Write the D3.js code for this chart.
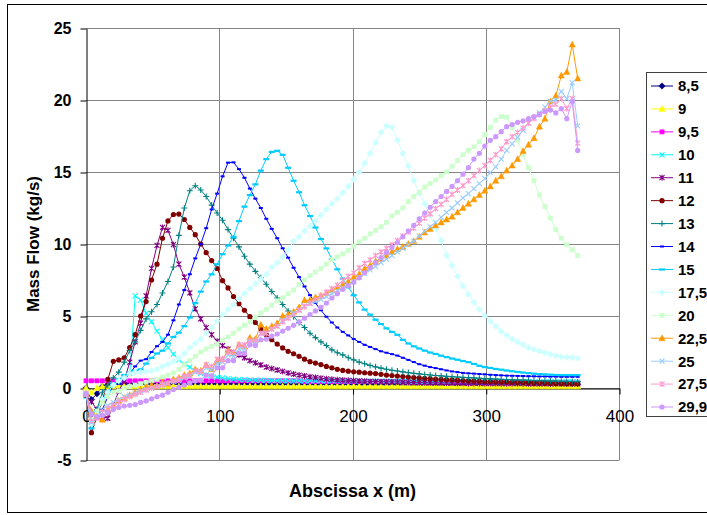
<!DOCTYPE html>
<html><head><meta charset="utf-8">
<script src="https://cdn.jsdelivr.net/npm/d3@7"></script>
<style>
html,body{margin:0;padding:0;background:#fff;}
svg{display:block;font-family:"Liberation Sans",Arial,sans-serif;}
</style></head>
<body>
<svg id="chart" width="707" height="515"></svg>
<script>
// ---------- DATA ----------
const xValues = [0,4.1,8.2,12.3,16.4,20.5,24.6,28.7,32.8,36.9,
41,45.1,49.2,53.3,57.4,61.5,65.6,69.7,73.8,77.9,
82,86.1,90.2,94.3,98.4,102.5,106.6,110.7,114.8,118.9,
123,127.1,131.2,135.3,139.4,143.5,147.6,151.7,155.8,159.9,
164,168.1,172.2,176.3,180.4,184.5,188.6,192.7,196.8,200.9,
205,209.1,213.2,217.3,221.4,225.5,229.6,233.7,237.8,241.9,
246,250.1,254.2,258.3,262.4,266.5,270.6,274.7,278.8,282.9,
287,291.1,295.2,299.3,303.4,307.5,311.6,315.7,319.8,323.9,
328,332.1,336.2,340.3,344.4,348.5,352.6,356.7,360.8,364.9,
369];

const seriesNames = ["8,5","9","9,5","10","11","12","13","14","15","17,5","20","22,5","25","27,5","29,9"];

const flow8_5 = [0,-0.8,-0.4,0.1,0.25,0.3,0.3,0.3,0.3,0.3,
0.3,0.3,0.3,0.3,0.3,0.3,0.3,0.3,0.3,0.3,
0.3,0.3,0.3,0.3,0.3,0.3,0.3,0.3,0.3,0.3,
0.28,0.28,0.28,0.28,0.28,0.28,0.28,0.28,0.28,0.28,
0.28,0.28,0.28,0.28,0.28,0.28,0.28,0.28,0.28,0.28,
0.26,0.26,0.26,0.26,0.26,0.26,0.26,0.26,0.26,0.26,
0.25,0.25,0.25,0.25,0.25,0.25,0.25,0.25,0.25,0.25,
0.25,0.25,0.25,0.25,0.25,0.25,0.25,0.25,0.25,0.25,
0.24,0.24,0.24,0.24,0.24,0.24,0.24,0.24,0.24,0.24,
0.24];
const flow9 = [0,-0.3,0,0.1,0.12,0.12,0.12,0.12,0.12,0.12,
0.12,0.12,0.12,0.12,0.12,0.12,0.12,0.12,0.12,0.12,
0.12,0.12,0.12,0.12,0.12,0.12,0.12,0.12,0.12,0.12,
0.12,0.12,0.12,0.12,0.12,0.12,0.12,0.12,0.12,0.12,
0.12,0.12,0.12,0.12,0.12,0.12,0.12,0.12,0.12,0.12,
0.12,0.12,0.12,0.12,0.12,0.12,0.12,0.12,0.12,0.12,
0.12,0.12,0.12,0.12,0.12,0.12,0.12,0.12,0.12,0.12,
0.12,0.12,0.12,0.12,0.12,0.12,0.12,0.12,0.12,0.12,
0.12,0.12,0.12,0.12,0.12,0.12,0.12,0.12,0.12,0.12,
0.12];
const flow9_5 = [0.5,0.5,0.5,0.5,0.5,0.5,0.5,0.5,0.5,0.5,
0.5,0.5,0.5,0.5,0.5,0.5,0.5,0.5,0.5,0.5,
0.5,0.5,0.5,0.5,0.5,0.5,0.5,0.5,0.5,0.5,
0.5,0.5,0.5,0.5,0.5,0.5,0.5,0.5,0.5,0.5,
0.45,0.45,0.45,0.45,0.45,0.45,0.45,0.45,0.45,0.45,
0.45,0.45,0.45,0.45,0.45,0.45,0.45,0.45,0.45,0.45,
0.4,0.4,0.4,0.4,0.4,0.4,0.4,0.4,0.4,0.4,
0.4,0.4,0.4,0.4,0.4,0.4,0.4,0.4,0.4,0.4,
0.37,0.37,0.37,0.37,0.37,0.37,0.37,0.37,0.37,0.37,
0.37];
const flow10 = [-0.6,-2.6,-1.8,-0.8,-0.3,0.2,0.5,0.8,1.0,6.4,
6.1,5.2,4.6,3.95,3.35,2.8,2.35,1.95,1.65,1.45,
1.2,1.0,0.9,0.8,0.75,0.7,0.65,0.62,0.6,0.58,
0.56,0.55,0.54,0.53,0.52,0.51,0.5,0.5,0.5,0.5,
0.49,0.49,0.49,0.49,0.49,0.49,0.49,0.49,0.49,0.49,
0.48,0.48,0.48,0.48,0.48,0.48,0.48,0.48,0.48,0.48,
0.46,0.46,0.46,0.46,0.46,0.46,0.46,0.46,0.46,0.46,
0.44,0.44,0.44,0.44,0.44,0.44,0.44,0.44,0.44,0.44,
0.43,0.43,0.43,0.43,0.43,0.43,0.43,0.43,0.43,0.43,
0.42];
const flow11 = [-0.5,-0.95,-1.5,-2.0,-2.1,-1.2,-0.2,0.5,1.8,3.2,
4.5,6.4,8.3,9.9,11.15,10.95,9.95,8.6,7.7,6.6,
5.5,4.8,4.2,3.7,3.25,2.95,2.7,2.5,2.3,2.1,
1.9,1.75,1.6,1.45,1.35,1.25,1.15,1.05,0.97,0.9,
0.84,0.78,0.73,0.68,0.64,0.6,0.57,0.55,0.53,0.51,
0.49,0.47,0.46,0.45,0.44,0.43,0.42,0.41,0.4,0.39,
0.38,0.37,0.37,0.36,0.35,0.35,0.34,0.34,0.33,0.33,
0.32,0.32,0.32,0.31,0.31,0.31,0.3,0.3,0.3,0.3,
0.3,0.29,0.29,0.29,0.29,0.28,0.28,0.28,0.28,0.28,
0.28];
const flow12 = [-0.5,-3.1,-2.0,-0.9,0.6,1.85,1.95,2.1,2.8,3.7,
5.0,6.0,7.5,8.6,10.4,11.6,12.05,12.08,11.7,11.15,
10.65,10.0,9.4,8.85,8.3,7.45,6.95,6.35,5.85,5.4,
4.95,4.55,4.1,3.7,3.35,3.05,2.78,2.55,2.38,2.2,
2.0,1.83,1.73,1.63,1.5,1.4,1.3,1.22,1.17,1.13,
1.1,1.06,1.03,1.0,0.95,0.9,0.86,0.83,0.79,0.76,
0.73,0.7,0.67,0.65,0.62,0.6,0.58,0.56,0.54,0.52,
0.5,0.48,0.47,0.45,0.44,0.43,0.42,0.41,0.4,0.39,
0.38,0.37,0.36,0.35,0.34,0.33,0.32,0.31,0.3,0.3,
0.3];
const flow13 = [-0.5,-2.0,-1.5,-0.3,0.2,0.7,1.1,1.8,2.6,3.2,
4.0,4.8,5.3,5.8,6.6,7.4,8.4,10.6,12.5,13.7,
14.05,13.75,13.3,12.7,12.15,11.65,11.0,10.4,9.8,9.15,
8.6,8.1,7.65,7.2,6.7,6.25,5.8,5.35,4.95,4.55,
4.2,3.8,3.5,3.2,2.95,2.65,2.45,2.3,2.1,1.95,
1.8,1.68,1.57,1.47,1.38,1.3,1.23,1.18,1.12,1.07,
1.02,0.98,0.94,0.9,0.87,0.84,0.81,0.78,0.76,0.74,
0.72,0.7,0.68,0.66,0.64,0.62,0.6,0.59,0.57,0.56,
0.55,0.54,0.52,0.51,0.5,0.49,0.48,0.47,0.46,0.45,
0.44];
const flow14 = [-0.5,-2.5,-2.0,-1.5,-0.6,0.2,0.3,0.6,1.0,1.5,
1.9,2.0,2.5,2.9,3.2,3.7,4.7,5.8,6.8,7.9,
9.0,10.0,11.1,12.4,13.5,14.7,15.65,15.67,15.2,14.6,
13.85,13.15,12.5,11.75,11.05,10.4,9.7,9.05,8.35,7.7,
7.05,6.45,5.9,5.4,4.95,4.55,4.2,3.9,3.65,3.4,
3.2,3.0,2.85,2.7,2.55,2.45,2.35,2.25,2.1,1.95,
1.8,1.65,1.55,1.45,1.38,1.3,1.22,1.15,1.1,1.05,
1.02,1.0,0.97,0.95,0.92,0.9,0.88,0.86,0.85,0.84,
0.83,0.82,0.81,0.8,0.8,0.79,0.79,0.78,0.78,0.78,
0.78];
const flow15 = [-0.3,-2.8,-1.6,-0.8,-0.2,0.3,0.6,0.9,1.1,1.2,
1.3,1.7,2.1,2.4,2.6,3.1,3.55,3.85,4.3,4.9,
5.9,6.7,7.4,7.9,8.6,9.3,9.9,10.5,11.6,12.6,
13.4,14.15,15.1,15.9,16.4,16.48,16.2,15.3,14.4,13.6,
12.7,11.95,11.15,10.35,9.7,8.95,8.25,7.6,7.0,6.45,
5.95,5.45,5.1,4.75,4.45,4.15,3.9,3.7,3.35,3.1,
2.9,2.75,2.6,2.47,2.37,2.25,2.15,2.05,1.97,1.88,
1.8,1.68,1.55,1.46,1.4,1.33,1.28,1.22,1.17,1.12,
1.08,1.04,1.0,0.97,0.95,0.93,0.91,0.9,0.9,0.9,
0.9];
const flow17_5 = [-0.3,-2.5,-1.8,-0.8,-0.3,0.2,0.5,0.7,1.0,1.1,
1.1,1.15,1.2,1.3,1.5,1.65,1.85,2.1,2.4,2.8,
3.1,3.4,3.8,4.2,4.65,5.1,5.45,5.8,6.2,6.55,
6.9,7.25,7.55,7.9,8.4,8.7,9.1,9.6,10.2,10.5,
10.9,11.25,11.6,12.0,12.4,12.8,13.15,13.55,14.0,14.5,
15.0,15.6,16.3,17.05,17.75,18.2,18.1,17.2,16.3,15.4,
14.4,13.5,12.8,12.0,11.05,10.25,9.2,8.5,7.75,7.1,
6.5,5.95,5.45,5.02,4.63,4.28,3.94,3.66,3.42,3.2,
3.0,2.8,2.68,2.56,2.45,2.34,2.24,2.17,2.13,2.12,
2.06];
const flow20 = [-0.3,-2.2,-1.6,-1.0,-0.6,-0.3,-0.2,0.0,0.1,0.2,
0.3,0.4,0.5,0.6,0.75,0.9,1.05,1.3,1.6,1.9,
2.2,2.5,2.7,2.9,3.05,3.3,3.55,3.8,4.1,4.35,
4.6,4.9,5.2,5.45,5.75,6.05,6.25,6.55,6.8,7.2,
7.5,7.8,8.05,8.3,8.6,8.9,9.1,9.3,9.55,9.85,
10.15,10.4,10.7,10.95,11.2,11.5,11.95,12.2,12.5,12.95,
13.3,13.6,13.95,14.2,14.45,14.75,15.0,15.4,15.8,16.2,
16.5,16.75,17.1,17.6,18.1,18.6,18.85,18.8,18.1,17.2,
16.2,15.3,14.4,13.4,12.6,11.8,11.0,10.4,9.95,9.6,
9.2];
const flow22_5 = [-0.4,-1.6,-2.0,-2.2,-1.5,-1.2,-0.9,-0.7,-0.5,-0.3,
-0.1,0.05,0.2,0.1,0.4,0.3,0.6,0.7,0.9,1.0,
1.3,1.2,1.6,1.3,1.9,2.0,2.6,2.4,3.0,2.9,
3.5,3.4,4.4,4.1,4.3,4.5,5.0,5.1,5.3,5.6,
6.1,6.1,6.3,6.4,6.6,6.8,7.0,7.2,7.4,7.7,
7.9,8.3,8.5,8.8,8.95,9.2,9.45,9.65,9.8,10.0,
10.2,10.5,10.8,11.05,11.3,11.5,11.7,11.9,12.2,12.5,
12.8,13.1,13.4,13.7,14.0,14.4,14.7,15.1,15.45,15.9,
16.45,16.9,17.35,18.15,18.7,19.9,20.3,21.7,21.95,23.85,
21.5];
const flow25 = [-0.5,-2.4,-2.0,-1.5,-1.2,-1.0,-0.8,-0.6,-0.5,-0.35,
-0.2,-0.1,0.0,0.1,0.2,0.3,0.45,0.5,0.7,0.8,
1.1,1.05,1.4,1.3,1.7,1.8,2.3,2.2,2.7,2.7,
3.2,3.2,3.8,3.8,4.1,4.3,4.7,4.9,5.2,5.45,
5.7,5.85,6.0,6.15,6.35,6.55,6.75,6.95,7.15,7.4,
7.7,7.95,8.2,8.45,8.7,8.95,9.2,9.45,9.7,9.95,
10.2,10.55,10.9,11.2,11.5,11.85,12.2,12.5,12.85,13.2,
13.5,13.85,14.2,14.55,14.95,15.35,15.9,16.5,16.95,17.4,
17.9,18.4,18.8,19.1,19.5,19.9,20.0,20.6,20.1,21.2,
18.2];
const flow27_5 = [-0.4,-2.3,-2.1,-1.7,-1.4,-1.2,-1.0,-0.8,-0.6,-0.45,
-0.3,-0.15,0.0,0.1,0.25,0.35,0.5,0.6,0.8,0.9,
1.2,1.15,1.6,1.5,2.0,2.0,2.5,2.5,3.0,3.0,
3.3,3.3,3.8,3.8,4.1,4.3,4.6,4.85,5.1,5.4,
5.65,5.9,6.15,6.4,6.65,6.9,7.15,7.45,7.75,8.0,
8.35,8.65,8.9,9.2,9.45,9.7,9.95,10.25,10.55,10.85,
11.1,11.45,11.8,12.1,12.45,12.75,13.1,13.45,13.75,14.05,
14.4,14.75,15.1,15.45,15.8,16.2,16.6,17.1,17.45,17.75,
18.05,18.4,18.7,19.0,19.25,19.5,19.7,20.1,19.4,20.1,
17.0];
const flow29_9 = [-0.4,-1.8,-2.0,-1.9,-1.7,-1.5,-1.35,-1.25,-1.2,-1.15,
-1.0,-0.9,-0.75,-0.6,-0.5,-0.3,-0.1,0.05,0.2,0.35,
0.5,0.55,0.9,0.85,1.4,1.4,1.9,1.9,2.4,2.4,
3.0,2.95,3.35,3.4,3.6,3.75,3.95,4.15,4.35,4.6,
4.85,5.1,5.35,5.6,5.9,6.25,6.55,6.85,7.1,7.35,
7.65,8.0,8.35,8.7,9.05,9.4,9.75,10.1,10.5,10.9,
11.3,11.75,12.15,12.55,12.95,13.3,13.65,14.0,14.4,14.85,
15.3,15.9,16.3,16.8,17.2,17.45,17.8,18.15,18.3,18.45,
18.55,18.7,18.85,19.0,19.2,19.3,19.1,19.4,18.7,19.9,
16.5];

const seriesValues = [flow8_5,flow9,flow9_5,flow10,flow11,flow12,flow13,flow14,flow15,flow17_5,flow20,flow22_5,flow25,flow27_5,flow29_9];
const yTicks = [-5,0,5,10,15,20,25];
const xTicks = [0,100,200,300,400];
const xTickLabels = ["0","100","200","300","400"];

// ---------- STYLE ----------
const seriesColors = ["#000080","#FFFF00","#FF00FF","#00FFFF","#800080","#800000","#008080","#0000FF","#00CCFF","#CCFFFF","#CCFFCC","#FF9900","#99CCFF","#FF99CC","#CC99FF"];
const seriesMarkers = ["diamond","triangle","square","x","star","circle","plus","dash","longdash","diamond","square","triangle","x","star","circle"];

const svg = d3.select("#chart");
const FONT = '"Liberation Sans",Arial,sans-serif';

// chart area border
svg.append("rect").attr("x",7.5).attr("y",4.5).attr("width",720).attr("height",508)
  .attr("fill","#fff").attr("stroke","#000").attr("stroke-width",1);

const x = d3.scaleLinear().domain([0,400]).range([86,619]);
const y = d3.scaleLinear().domain([-5,25]).range([460,28]);

// gridlines
const grid = svg.append("g");
grid.selectAll("line.h").data(yTicks).join("line")
  .attr("x1",x(0)).attr("x2",x(400))
  .attr("y1",d=>Math.round(y(d))+0.5).attr("y2",d=>Math.round(y(d))+0.5)
  .attr("stroke","#868686").attr("stroke-width",1);
grid.selectAll("line.v").data(xTicks.filter(d=>d>0)).join("line")
  .attr("x1",d=>Math.round(x(d))+0.5).attr("x2",d=>Math.round(x(d))+0.5)
  .attr("y1",y(25)).attr("y2",y(-5)+0.5)
  .attr("stroke","#868686").attr("stroke-width",1);

// axes
const yAxis = svg.append("g").attr("transform","translate(86.5,0.5)")
  .call(d3.axisLeft(y).tickValues(yTicks).tickSize(6).tickSizeOuter(0).tickPadding(9).tickFormat(d=>d));
yAxis.selectAll("text").attr("font-family",FONT).attr("font-size",16).attr("font-weight","bold").attr("fill","#000");
yAxis.selectAll("line,path").attr("stroke","#000");

const xAxis = svg.append("g").attr("transform",`translate(0.5,${Math.round(y(0))+0.5})`)
  .call(d3.axisBottom(x).tickValues(xTicks).tickSize(6).tickSizeOuter(0).tickPadding(15).tickFormat((d,i)=>xTickLabels[i]));
xAxis.selectAll("text").attr("font-family",FONT).attr("font-size",17).attr("fill","#000");
xAxis.selectAll("line,path").attr("stroke","#000");

// axis titles
svg.append("text").attr("transform",`translate(38.5,${(y(25)+y(-5))/2}) rotate(-90)`)
  .attr("text-anchor","middle").attr("font-family",FONT).attr("font-size",17).attr("font-weight","bold")
  .text("Mass Flow (kg/s)");
svg.append("text").attr("x",(x(0)+x(400))/2).attr("y",497)
  .attr("text-anchor","middle").attr("font-family",FONT).attr("font-size",18).attr("font-weight","bold")
  .text("Abscissa x (m)");

// marker drawing
function drawMarker(g, type, color, cx, cy){
  const sw = 1.1;
  switch(type){
    case "diamond": g.append("path").attr("d",`M${cx},${cy-3.2}L${cx+3.2},${cy}L${cx},${cy+3.2}L${cx-3.2},${cy}Z`).attr("fill",color).attr("stroke",color).attr("stroke-width",0.5); break;
    case "square": g.append("rect").attr("x",cx-2.4).attr("y",cy-2.4).attr("width",4.8).attr("height",4.8).attr("fill",color); break;
    case "triangle": g.append("path").attr("d",`M${cx},${cy-3.4}L${cx+3.1},${cy+2.5}L${cx-3.1},${cy+2.5}Z`).attr("fill",color).attr("stroke",color).attr("stroke-width",0.5); break;
    case "circle": g.append("circle").attr("cx",cx).attr("cy",cy).attr("r",2.6).attr("fill",color); break;
    case "x": g.append("path").attr("d",`M${cx-2.5},${cy-2.5}L${cx+2.5},${cy+2.5}M${cx+2.5},${cy-2.5}L${cx-2.5},${cy+2.5}`).attr("stroke",color).attr("stroke-width",sw).attr("fill","none"); break;
    case "star": g.append("path").attr("d",`M${cx-2.5},${cy-2.5}L${cx+2.5},${cy+2.5}M${cx+2.5},${cy-2.5}L${cx-2.5},${cy+2.5}M${cx},${cy-3}L${cx},${cy+3}`).attr("stroke",color).attr("stroke-width",sw).attr("fill","none"); break;
    case "plus": g.append("path").attr("d",`M${cx-3},${cy}L${cx+3},${cy}M${cx},${cy-3}L${cx},${cy+3}`).attr("stroke",color).attr("stroke-width",sw).attr("fill","none"); break;
    case "dash": g.append("rect").attr("x",cx-2).attr("y",cy-1).attr("width",4).attr("height",2).attr("fill",color); break;
    case "longdash": g.append("rect").attr("x",cx-3).attr("y",cy-1).attr("width",6).attr("height",2.2).attr("fill",color); break;
  }
}

// series
const line = d3.line().x((d,i)=>x(xValues[i])).y(d=>y(d));
const plot = svg.append("g");
seriesValues.forEach((vals,k)=>{
  const g = plot.append("g");
  g.append("path").datum(vals).attr("d",line).attr("fill","none")
    .attr("stroke",seriesColors[k]).attr("stroke-width",1);
  vals.forEach((v,i)=> drawMarker(g, seriesMarkers[k], seriesColors[k], x(xValues[i]), y(v)));
});

// legend
const lg = svg.append("g");
lg.append("rect").attr("x",646.5).attr("y",72.5).attr("width",80).attr("height",344)
  .attr("fill","#fff").attr("stroke","#404040").attr("stroke-width",1);
seriesNames.forEach((name,k)=>{
  const yy = 86 + k*22.93;
  lg.append("line").attr("x1",651).attr("x2",673).attr("y1",yy).attr("y2",yy)
    .attr("stroke",seriesColors[k]).attr("stroke-width",1);
  drawMarker(lg, seriesMarkers[k], seriesColors[k], 662, yy);
  lg.append("text").attr("x",678).attr("y",yy).attr("dy","0.36em")
    .attr("font-family",FONT).attr("font-size",15).attr("font-weight","bold").attr("fill","#000").text(name);
});
</script>
</body></html>
